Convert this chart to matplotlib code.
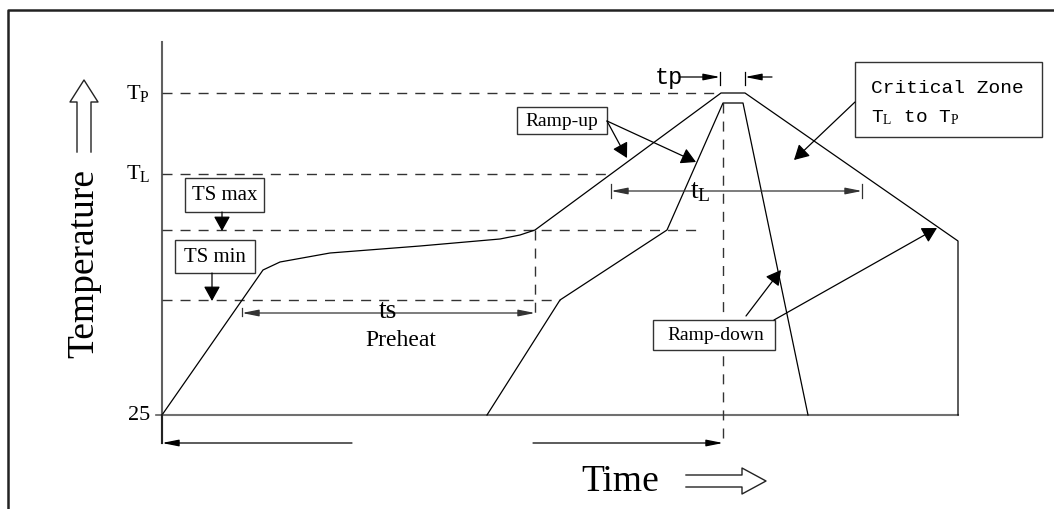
import matplotlib.pyplot as plt
from matplotlib.patches import Rectangle

plt.rcParams['font.family'] = ['Liberation Serif', 'DejaVu Serif']
plt.rcParams['mathtext.fontset'] = 'custom'
plt.rcParams['mathtext.rm'] = 'Liberation Serif'
plt.rcParams['mathtext.it'] = 'Liberation Serif:italic'

# drawing units follow the sheet: time to the right, temperature upward (smaller y = hotter)
T_P, T_L, TS_MAX, TS_MIN, T_25 = 93, 174, 230, 300, 415
t_start, t_ts_end, t_peak, t_end = 162, 535, 723, 958

# outer (max) profile
outer_t = [162, 263, 280, 330, 420, 500, 520, 535, 721, 745, 958, 958]
outer_T = [415, 270, 262, 253, 246, 239, 235, 230, 93, 93, 241, 415]
# inner (min) profile
inner_t = [487, 560, 667, 723, 743, 808]
inner_T = [415, 300, 230, 103, 103, 415]

level_labels = [r'T$_\mathrm{P}$', r'T$_\mathrm{L}$', '25']
level_values = [T_P, T_L, T_25]
level_dash_end = {T_P: 720, T_L: 610, TS_MAX: 700, TS_MIN: 560}

fig = plt.figure(figsize=(10.54, 5.09), dpi=100)
ax = fig.add_axes([0, 0, 1, 1])
ax.set_xlim(0, 1054)
ax.set_ylim(509, 0)
ax.axis('off')

# sheet frame
ax.plot([8, 8, 1054], [509, 10, 10], color='#222222', lw=1.8, solid_capstyle='butt')

# axes
ax.plot([t_start, t_start], [42, 443], color='#606060', lw=1.5)
ax.plot([t_start, t_end], [T_25, T_25], color='#707070', lw=1.5)
ax.plot([156, t_start], [T_25, T_25], color='#606060', lw=1.2)

# dashed reference levels
dash = dict(color='#333333', lw=1.0, dashes=(7.2, 5.8))
for lvl, xend in level_dash_end.items():
    ax.plot([t_start, xend], [lvl, lvl], **dash)
ax.plot([t_ts_end, t_ts_end], [TS_MAX, 318], **dash)
ax.plot([t_peak, t_peak], [103, 443], **dash)

# profiles
ax.plot(outer_t, outer_T, color='black', lw=0.9)
ax.plot(inner_t, inner_T, color='black', lw=0.9)

# level labels
for lab, val in zip(level_labels, level_values):
    ax.text(150, val, lab, ha='right', va='center', fontsize=16)

big = dict(arrowstyle='-|>,head_length=0.45,head_width=0.25', color='black',
           lw=0.9, shrinkA=0, shrinkB=0, mutation_scale=20)
small = dict(arrowstyle='-|>,head_length=1.0,head_width=0.2', color='black',
             lw=0.9, shrinkA=0, shrinkB=0, mutation_scale=10)
small2 = dict(arrowstyle='<|-|>,head_length=1.0,head_width=0.2', color='#333333',
              lw=0.9, shrinkA=0, shrinkB=0, mutation_scale=10)


def arrow(p0, p1, style):
    ax.annotate('', xy=p1, xytext=p0, arrowprops=style)


def box(x0, y0, x1, y1):
    ax.add_patch(Rectangle((x0, y0), x1 - x0, y1 - y0, fc='white', ec='#333333', lw=1.0, zorder=3))


# labelled boxes
box(517, 107, 607, 134)
ax.text(562, 121, 'Ramp-up', ha='center', va='center', fontsize=14, zorder=4)
box(185, 178, 264, 212)
ax.text(225, 195, 'TS max', ha='center', va='center', fontsize=15, zorder=4)
box(175, 240, 255, 273)
ax.text(215, 257, 'TS min', ha='center', va='center', fontsize=15, zorder=4)
box(653, 320, 775, 350)
ax.text(716, 335, 'Ramp-down', ha='center', va='center', fontsize=14, zorder=4)
box(855, 62, 1042, 137)
ax.text(871, 88, 'Critical Zone', ha='left', va='center', fontsize=14,
        family='Liberation Mono', zorder=4)
ax.text(871, 118, r'T$_\mathrm{L}$ to T$_\mathrm{P}$', ha='left', va='center', fontsize=14,
        family='Liberation Mono', zorder=4)

# pointer arrows
arrow((222, 212), (222, 231), big)
arrow((212, 273), (212, 301), big)
arrow((607, 121), (627, 158), big)
arrow((607, 121), (696, 162), big)
arrow((855, 102), (794, 160), big)
arrow((746, 316), (781, 270), big)
arrow((774, 320), (937, 228), big)

# tp
arrow((679, 77), (720, 77), small)
arrow((772, 77), (745, 77), small)
for xt in (720, 745):
    ax.plot([xt, xt], [72, 85], color='black', lw=0.9)
ax.text(655, 77, 'tp', ha='left', va='center', fontsize=17, family='Liberation Mono')

# tL
arrow((611, 191), (862, 191), small2)
for xt in (611, 862):
    ax.plot([xt, xt], [184, 198], color='#333333', lw=0.9)
ax.text(700, 192, r't$_\mathrm{L}$', ha='center', va='center', fontsize=20)

# ts
arrow((242, 313), (535, 313), small2)
ax.plot([242, 242], [308, 316], color='#333333', lw=0.9)
ax.text(388, 311, 'ts', ha='center', va='center', fontsize=20)
ax.text(401, 340, 'Preheat', ha='center', va='center', fontsize=17)

# bottom span arrows
arrow((352, 443), (t_start, 443), small)
arrow((533, 443), (t_peak, 443), small)
ax.plot([t_start, t_start], [T_25, 443], color='#222222', lw=1.5)

# axis titles with hollow arrows
ax.text(84, 263, 'Temperature', rotation=90, ha='center', va='center', fontsize=27)
ax.plot([77, 77, 70, 84, 98, 91, 91], [152, 102, 102, 80, 102, 102, 152], color='#222222', lw=1.0)
ax.text(620, 482, 'Time', ha='center', va='center', fontsize=27)
ax.plot([686, 742, 742, 766, 742, 742, 686], [475, 475, 468, 481, 494, 487, 487], color='#222222', lw=1.0)

fig.savefig('out.png', dpi=100)
